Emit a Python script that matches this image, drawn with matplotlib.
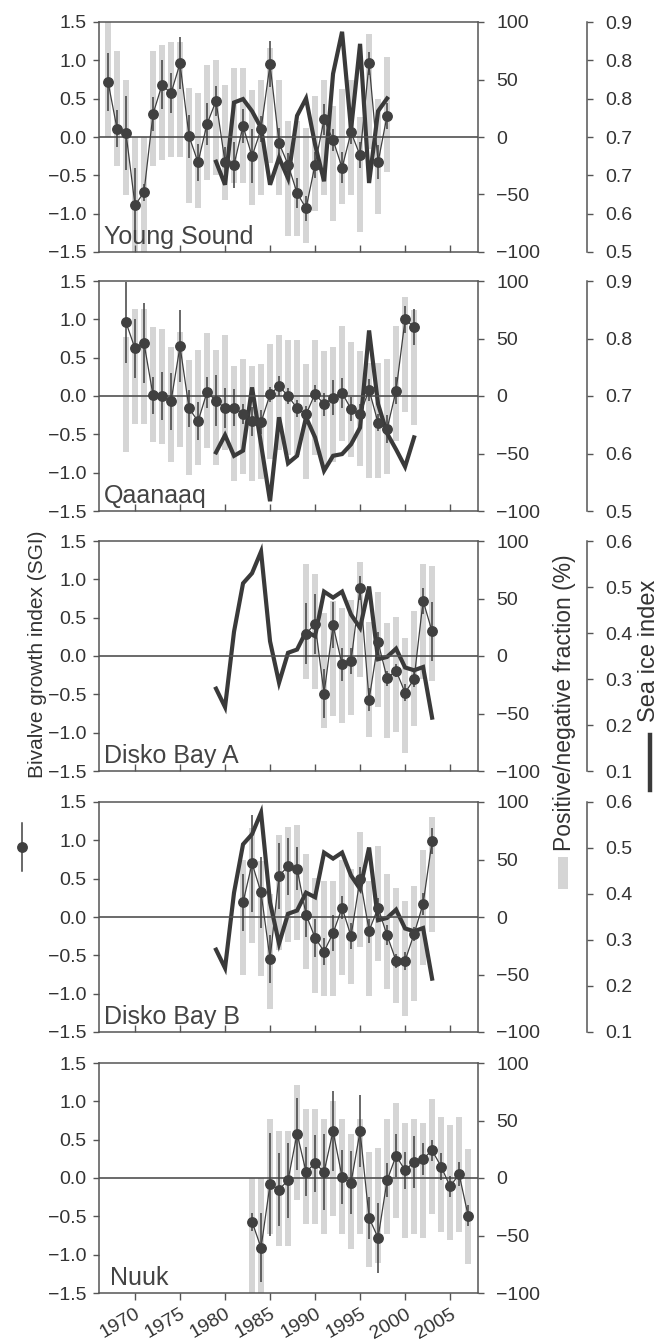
import matplotlib
matplotlib.use("Agg")
import matplotlib.pyplot as plt
from matplotlib.lines import Line2D
from matplotlib.patches import Rectangle

plt.rcParams['font.family'] = ['Liberation Sans', 'DejaVu Sans']

# ---------------- data ----------------
# Young Sound
ys_years = list(range(1967, 1999))
ys_sgi = [0.72, 0.11, 0.05, -0.89, -0.72, 0.30, 0.68, 0.57, 0.96, 0.01, -0.33, 0.17, 0.47, -0.33, -0.36, 0.14,
          -0.25, 0.10, 0.95, -0.08, -0.36, -0.73, -0.93, -0.36, 0.23, -0.04, -0.40, 0.06, -0.24, 0.96, -0.33, 0.28]
ys_err = [0.38, 0.24, 0.48, 0.48, 0.11, 0.22, 0.32, 0.26, 0.34, 0.28, 0.24, 0.28, 0.20, 0.20, 0.30, 0.22,
          0.35, 0.17, 0.30, 0.20, 0.15, 0.20, 0.16, 0.17, 0.20, 0.14, 0.20, 0.15, 0.17, 0.15, 0.22, 0.17]
ys_pos = [100, 75, 50, 0, 0, 75, 80, 83, 83, 43, 38, 63, 67, 45, 60, 60,
          41, 50, 77, 50, 14, 14, 8, 36, 50, 27, 42, 50, 17, 90, 33, 70]
ys_ice_years = list(range(1979, 1999))
ys_ice = [0.657, 0.617, 0.760, 0.766, 0.745, 0.716, 0.617, 0.664, 0.628, 0.737,
          0.767, 0.687, 0.623, 0.810, 0.883, 0.713, 0.862, 0.620, 0.745, 0.767]

# Qaanaaq
qa_years = list(range(1969, 2002))
qa_sgi = [0.96, 0.62, 0.69, 0.01, 0.00, -0.07, 0.65, -0.16, -0.33, 0.05, -0.06, -0.16, -0.15, -0.23, -0.33,
          -0.34, 0.02, 0.13, 0.00, -0.16, -0.24, 0.03, -0.11, -0.02, 0.04, -0.17, -0.24, 0.08, -0.35, -0.43,
          0.07, 1.00, 0.90]
qa_err = [0.53, 0.39, 0.52, 0.24, 0.31, 0.37, 0.47, 0.24, 0.25, 0.20, 0.33, 0.26, 0.24, 0.13, 0.19,
          0.16, 0.10, 0.13, 0.11, 0.11, 0.11, 0.11, 0.15, 0.23, 0.19, 0.16, 0.13, 0.14, 0.11, 0.18,
          0.18, 0.18, 0.24]
qa_pos = [51, 76, 76, 60, 58, 43, 56, 31, 40, 55, 40, 53, 26, 32, 26,
          28, 45, 53, 49, 49, 28, 49, 39, 43, 61, 47, 39, 29, 29, 32,
          61, 86, 75]
qa_ice_years = list(range(1979, 2002))
qa_ice = [0.602, 0.632, 0.596, 0.605, 0.715, 0.616, 0.517, 0.663, 0.583, 0.596, 0.663, 0.628,
          0.570, 0.596, 0.599, 0.616, 0.645, 0.814, 0.686, 0.635, 0.607, 0.577, 0.628]

# Disko Bay (sea ice shared by A and B)
db_ice_years = list(range(1979, 2004))
db_ice = [0.279, 0.239, 0.403, 0.508, 0.530, 0.577, 0.382, 0.292, 0.357, 0.364, 0.403, 0.393, 0.490,
          0.477, 0.490, 0.440, 0.411, 0.501, 0.343, 0.348, 0.366, 0.325, 0.319, 0.326, 0.216]

# Disko Bay A
da_years = list(range(1989, 2004))
da_sgi = [0.29, 0.42, -0.49, 0.40, -0.11, -0.07, 0.89, -0.57, 0.18, -0.29, -0.19, -0.48, -0.30, 0.72, 0.32]
da_err = [0.40, 0.39, 0.32, 0.30, 0.22, 0.17, 0.16, 0.15, 0.13, 0.10, 0.08, 0.11, 0.10, 0.17, 0.38]
da_pos = [80, 71, 37, 48, 42, 49, 82, 30, 56, 29, 34, 16, 39, 80, 78]

# Disko Bay B
dbb_years = list(range(1982, 2004))
dbb_sgi = [0.19, 0.70, 0.32, -0.55, 0.54, 0.66, 0.63, 0.03, -0.27, -0.45, -0.21, 0.12, -0.25, 0.50, -0.18,
           0.12, -0.24, -0.57, -0.57, -0.22, 0.17, 0.99]
dbb_err = [0.37, 0.63, 0.46, 0.31, 0.43, 0.37, 0.28, 0.29, 0.25, 0.17, 0.23, 0.15, 0.17, 0.15, 0.16,
           0.13, 0.13, 0.09, 0.12, 0.09, 0.14, 0.17]
dbb_pos = [50, 77, 49, 20, 71, 78, 80, 55, 34, 31, 31, 50, 42, 74, 31, 62, 37, 25, 14, 27, 58, 87]

# Nuuk
nu_years = list(range(1983, 2008))
nu_sgi = [-0.57, -0.91, -0.08, -0.15, -0.03, 0.58, 0.08, 0.19, 0.08, 0.61, 0.01, -0.06, 0.61, -0.52, -0.78,
          -0.03, 0.29, 0.10, 0.21, 0.25, 0.36, 0.15, -0.11, 0.05, -0.49]
nu_err = [0.12, 0.45, 0.67, 0.47, 0.49, 0.47, 0.32, 0.37, 0.50, 0.52, 0.35, 0.41, 0.47, 0.27, 0.46,
          0.22, 0.28, 0.24, 0.34, 0.21, 0.14, 0.17, 0.14, 0.16, 0.14]
nu_pos = [0, 0, 51, 41, 41, 81, 60, 60, 51, 67, 51, 38, 51, 23, 26, 51, 65, 48, 51, 48, 69, 53, 46, 53, 25]

site_names = ["Young Sound", "Qaanaaq", "Disko Bay A", "Disko Bay B", "Nuuk"]

ice_limits = [(0.5, 0.9), (0.5, 0.9), (0.1, 0.6), (0.1, 0.6), None]
ice_tick_labels = [["0.5", "0.6", "0.7", "0.7", "0.8", "0.8", "0.9"],
                   ["0.5", "0.6", "0.7", "0.8", "0.9"],
                   ["0.1", "0.2", "0.3", "0.4", "0.5", "0.6"],
                   ["0.1", "0.2", "0.3", "0.4", "0.5", "0.6"],
                   None]

sgi_ticks = [-1.5, -1.0, -0.5, 0.0, 0.5, 1.0, 1.5]
frac_ticks = [-100, -50, 0, 50, 100]
year_ticks = [1970, 1975, 1980, 1985, 1990, 1995, 2000, 2005]

panels = [
    (ys_years, ys_sgi, ys_err, ys_pos, ys_ice_years, ys_ice),
    (qa_years, qa_sgi, qa_err, qa_pos, qa_ice_years, qa_ice),
    (da_years, da_sgi, da_err, da_pos, db_ice_years, db_ice),
    (dbb_years, dbb_sgi, dbb_err, dbb_pos, db_ice_years, db_ice),
    (nu_years, nu_sgi, nu_err, nu_pos, None, None),
]

# ---------------- style ----------------
DARK = "#404040"
TXT = "#333333"
SPINE = "#555555"
BAR = "#d5d5d5"

W, H = 660, 1340
fig = plt.figure(figsize=(W / 100, H / 100), dpi=100)
fig.patch.set_facecolor("white")


def fx(p):
    return p / W


def fy(p):
    return 1 - p / H


tops = [22, 281, 541, 802, 1063]
ph = 230
left_px, right_px = 99, 478
TFS = 14

for i, (years, sgi, err, pos, iyears, ice) in enumerate(panels):
    top = tops[i]
    rect = [fx(left_px), fy(top + ph), (right_px - left_px) / W, ph / H]
    ax = fig.add_axes(rect)
    axf = ax.twinx()

    # fraction bars (bottom layer)
    neg = [100 - p for p in pos]
    axf.bar(years, [p + n for p, n in zip(pos, neg)], bottom=[-n for n in neg],
            width=0.68, color=BAR, linewidth=0)
    axf.set_ylim(-100, 100)
    axf.set_yticks(frac_ticks)
    axf.tick_params(axis='y', direction='out', length=4, width=1, color=SPINE,
                    labelsize=TFS, labelcolor=TXT, pad=9)
    for s in ['top', 'bottom', 'left']:
        axf.spines[s].set_visible(False)
    axf.spines['right'].set_color(SPINE)
    axf.spines['right'].set_linewidth(1.1)
    axf.set_zorder(0)

    # sea ice line
    if ice is not None:
        axi = ax.twinx()
        axi.plot(iyears, ice, color="#3a3a3a", lw=3.0, solid_joinstyle='miter')
        lo, hi = ice_limits[i]
        axi.set_ylim(lo, hi)
        labs = ice_tick_labels[i]
        n = len(labs)
        axi.set_yticks([lo + (hi - lo) * k / (n - 1) for k in range(n)])
        axi.set_yticklabels(labs)
        axi.spines['right'].set_position(('outward', 78.5))
        for s in ['top', 'bottom', 'left']:
            axi.spines[s].set_visible(False)
        axi.spines['right'].set_color(SPINE)
        axi.spines['right'].set_linewidth(1.1)
        axi.tick_params(axis='y', direction='out', length=4, width=1, color=SPINE,
                        labelsize=TFS, labelcolor=TXT, pad=9)
        axi.set_zorder(1)
        axi.patch.set_visible(False)

    # SGI
    ax.axhline(0, color="#505050", lw=1.2, zorder=1)
    ax.errorbar(years, sgi, yerr=err, fmt='-o', color=DARK, ms=6.8, lw=0.9,
                elinewidth=1.1, capsize=0, zorder=3)
    ax.set_zorder(2)
    ax.patch.set_visible(False)
    ax.set_xlim(1966, 2008.1)
    ax.set_ylim(-1.5, 1.5)
    ax.set_yticks(sgi_ticks)
    ax.set_xticks(year_ticks)
    for s in ['top', 'bottom', 'left']:
        ax.spines[s].set_color(SPINE)
        ax.spines[s].set_linewidth(1.1)
    ax.spines['right'].set_visible(False)
    ax.tick_params(axis='y', direction='out', length=4, width=1, color=SPINE,
                   labelsize=TFS, labelcolor=TXT, pad=5)
    if i < 4:
        ax.tick_params(axis='x', direction='in', length=5, width=1, color=SPINE,
                       labelbottom=False)
    else:
        ax.tick_params(axis='x', direction='out', length=5, width=1, color=SPINE,
                       labelsize=TFS, labelcolor=TXT, pad=4)
        for lab in ax.get_xticklabels():
            lab.set_rotation(30)
            lab.set_ha('right')
            lab.set_rotation_mode('anchor')
    xoff = 0.03 if i == 4 else 0.012
    ax.text(xoff, 0.035, site_names[i], transform=ax.transAxes, fontsize=18,
            color="#444444", va='baseline', ha='left', zorder=5)

# ---------------- legend-like axis labels ----------------
fig.text(fx(38), fy(778), "Bivalve growth index (SGI)", rotation=90, ha='center', va='bottom',
         fontsize=15, color=TXT)
fig.add_artist(Line2D([fx(22), fx(22)], [fy(823), fy(871)], transform=fig.transFigure,
                      color=DARK, lw=1.1))
fig.add_artist(Line2D([fx(22)], [fy(847)], transform=fig.transFigure, color=DARK,
                      marker='o', ms=6.8, lw=0))

fig.text(fx(564), fy(851), "Positive/negative fraction (%)", rotation=90, ha='center', va='bottom',
         fontsize=16.5, color=TXT)
fig.add_artist(Rectangle((fx(558), fy(889)), 10 / W, 32 / H, transform=fig.transFigure,
                         color=BAR, lw=0))

fig.text(fx(649), fy(722), "Sea ice index", rotation=90, ha='center', va='bottom',
         fontsize=17, color=TXT)
fig.add_artist(Line2D([fx(650), fx(650)], [fy(735), fy(790)], transform=fig.transFigure,
                      color="#3a3a3a", lw=3.2))

fig.savefig("out.png", dpi=100, facecolor="white")
